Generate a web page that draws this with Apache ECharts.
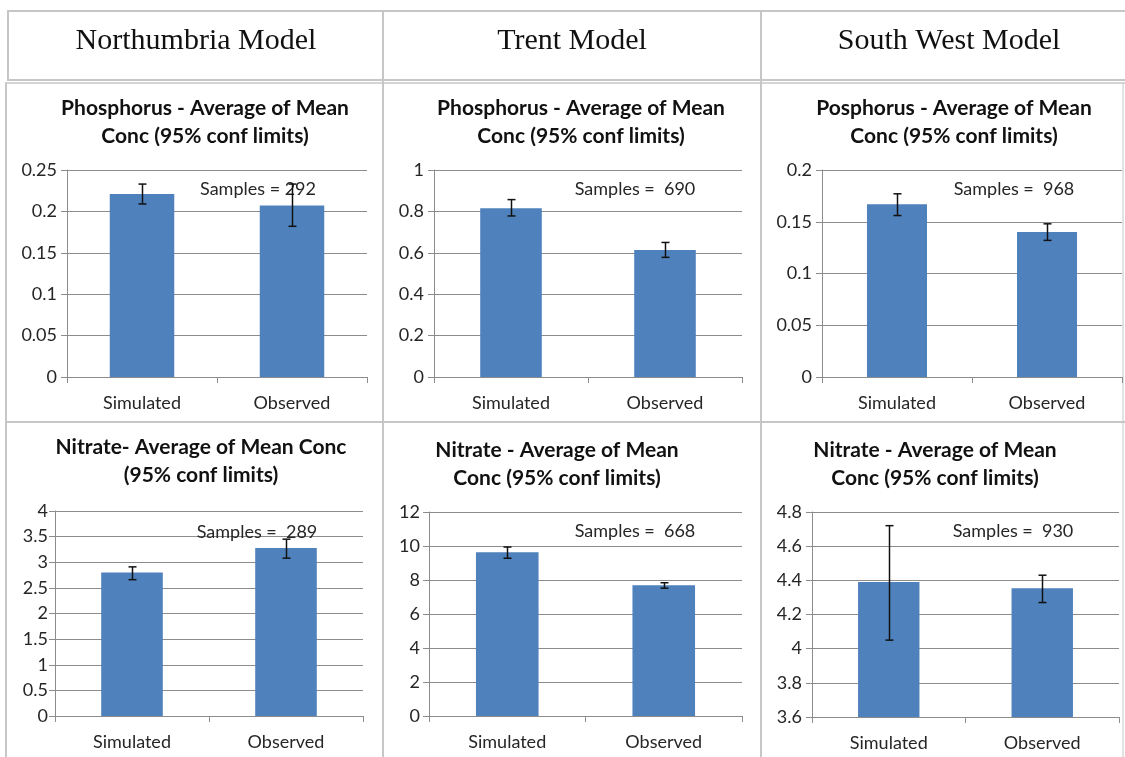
<!DOCTYPE html>
<html>
<head>
<meta charset="utf-8">
<script src="https://cdn.jsdelivr.net/npm/echarts@6/dist/echarts.min.js"></script>
<style>
html,body{margin:0;padding:0;background:#fff;}
#c{width:1125px;height:757px;}
</style>
</head>
<body>
<div id="c"></div>
<script>
// ---- data ----
const categories = ['Simulated', 'Observed'];
const headers = ['Northumbria Model', 'Trent Model', 'South West Model'];
const chartTitles = [
  'Phosphorus - Average of Mean\nConc (95% conf limits)',
  'Phosphorus - Average of Mean\nConc (95% conf limits)',
  'Posphorus - Average of Mean\nConc (95% conf limits)',
  'Nitrate- Average of Mean Conc\n(95% conf limits)',
  'Nitrate - Average of Mean\nConc (95% conf limits)',
  'Nitrate - Average of Mean\nConc (95% conf limits)'
];
const sampleLabels = ['Samples = 292', 'Samples =  690', 'Samples =  968', 'Samples =  289', 'Samples =  668', 'Samples =  930'];

const northP_mean = [0.221, 0.207];
const northP_low  = [0.209, 0.182];
const northP_high = [0.233, 0.233];

const trentP_mean = [0.815, 0.613];
const trentP_low  = [0.778, 0.578];
const trentP_high = [0.857, 0.650];

const swP_mean = [0.167, 0.140];
const swP_low  = [0.156, 0.132];
const swP_high = [0.177, 0.148];

const northN_mean = [2.80, 3.28];
const northN_low  = [2.66, 3.08];
const northN_high = [2.91, 3.45];

const trentN_mean = [9.63, 7.69];
const trentN_low  = [9.28, 7.52];
const trentN_high = [9.94, 7.84];

const swN_mean = [4.39, 4.354];
const swN_low  = [4.05, 4.27];
const swN_high = [4.72, 4.43];

const yMin  = [0, 0, 0, 0, 0, 3.6];
const yMax  = [0.25, 1, 0.2, 4, 12, 4.8];
const yStep = [0.05, 0.2, 0.05, 0.5, 2, 0.2];

const means = [northP_mean, trentP_mean, swP_mean, northN_mean, trentN_mean, swN_mean];
const lows  = [northP_low, trentP_low, swP_low, northN_low, trentN_low, swN_low];
const highs = [northP_high, trentP_high, swP_high, northN_high, trentN_high, swN_high];

// ---- layout ----
const grids = [
  {left: 67,  top: 170, width: 300, height: 207},
  {left: 434, top: 170, width: 308, height: 207},
  {left: 822, top: 170, width: 300, height: 207},
  {left: 55,  top: 511, width: 308, height: 205},
  {left: 429, top: 512, width: 313, height: 204},
  {left: 812, top: 512, width: 307, height: 205}
];
const labelMargins = [10, 10, 10, 7, 9, 10];
const barWidths = ['43%', '40%', '40%', '40%', '40%', '40%'];
const titlePos = [[205, 108], [581, 108], [954, 108], [201, 447], [557, 450], [935, 450]];
const samplePos = [[258, 189], [635, 189], [1014, 189], [257, 532], [635, 531], [1013, 531]];
const headerX = [196, 572, 949];

const FONT = 'Lato, "Open Sans", sans-serif';
const lineColor = '#c6c6c6';
const axisGray = '#8c8c8c';

const option = {
  animation: false,
  backgroundColor: '#ffffff',
  title: chartTitles.map((t, i) => ({
    text: t,
    left: titlePos[i][0],
    top: titlePos[i][1] - 14,
    textAlign: 'center',
    padding: 0,
    textStyle: {fontFamily: FONT, fontSize: 21, fontWeight: 'bold', color: '#111', lineHeight: 28}
  })),
  grid: grids.map(g => Object.assign({containLabel: false}, g)),
  xAxis: grids.map((g, i) => ({
    type: 'category',
    gridIndex: i,
    data: categories,
    axisLine: {lineStyle: {color: axisGray, width: 1}},
    axisTick: {show: true, length: 6, lineStyle: {color: axisGray}},
    axisLabel: {fontFamily: FONT, fontSize: 18, color: '#262626', margin: 17}
  })),
  yAxis: grids.map((g, i) => ({
    type: 'value',
    gridIndex: i,
    min: yMin[i],
    max: yMax[i],
    interval: yStep[i],
    axisLine: {show: true, lineStyle: {color: axisGray, width: 1}},
    axisTick: {show: true, length: 6, lineStyle: {color: axisGray}},
    splitLine: {show: true, lineStyle: {color: axisGray, width: 1}},
    axisLabel: {fontFamily: FONT, fontSize: 18, color: '#262626', margin: labelMargins[i],
      formatter: v => String(Math.round(v * 1000) / 1000)}
  })),
  series: [],
  graphic: []
};

means.forEach((m, i) => {
  option.series.push({
    type: 'bar',
    xAxisIndex: i,
    yAxisIndex: i,
    data: m,
    barWidth: barWidths[i],
    clip: true,
    itemStyle: {color: '#4f81bd'},
    z: 2
  });
  option.series.push({
    type: 'custom',
    xAxisIndex: i,
    yAxisIndex: i,
    z: 5,
    data: categories.map((c, k) => [k, lows[i][k], highs[i][k]]),
    encode: {x: 0, y: [1, 2]},
    renderItem: function (params, api) {
      const lo = api.coord([api.value(0), api.value(1)]);
      const hi = api.coord([api.value(0), api.value(2)]);
      const x = Math.round(lo[0]) + 0.5;
      const w = 4;
      const st = {stroke: '#111', lineWidth: 1.5};
      return {
        type: 'group',
        children: [
          {type: 'line', shape: {x1: x, y1: lo[1], x2: x, y2: hi[1]}, style: st},
          {type: 'line', shape: {x1: x - w, y1: hi[1], x2: x + w, y2: hi[1]}, style: st},
          {type: 'line', shape: {x1: x - w, y1: lo[1], x2: x + w, y2: lo[1]}, style: st}
        ]
      };
    }
  });
});

// table borders
const hl = (x1, x2, y, w) => ({type: 'line', silent: true, shape: {x1, y1: y, x2, y2: y}, style: {stroke: lineColor, lineWidth: w}});
const vl = (x, y1, y2, w) => ({type: 'line', silent: true, shape: {x1: x, y1, x2: x, y2}, style: {stroke: lineColor, lineWidth: w}});
option.graphic.push(hl(7, 1125, 11, 2));
option.graphic.push(hl(7, 1125, 80, 2));
option.graphic.push(hl(5, 1125, 83, 1.5));
option.graphic.push(hl(5, 1125, 422, 2));
option.graphic.push(vl(8, 11, 80, 2));
option.graphic.push(vl(6, 83, 757, 2));
option.graphic.push(vl(383, 11, 757, 2));
option.graphic.push(vl(761, 11, 757, 2));
option.graphic.push(vl(1123, 83, 757, 1));

headers.forEach((h, i) => {
  option.graphic.push({
    type: 'text', x: headerX[i], y: 41, silent: true,
    style: {text: h, align: 'center', verticalAlign: 'middle', font: '30px "Liberation Serif", "Times New Roman", serif', fill: '#111'}
  });
});

sampleLabels.forEach((s, i) => {
  option.graphic.push({
    type: 'text', x: samplePos[i][0], y: samplePos[i][1], silent: true, z: 4,
    style: {text: s, align: 'center', verticalAlign: 'middle', font: '18px ' + FONT, fill: '#262626'}
  });
});

const chart = echarts.init(document.getElementById('c'), null, {renderer: 'canvas'});
chart.setOption(option);
</script>
</body>
</html>
